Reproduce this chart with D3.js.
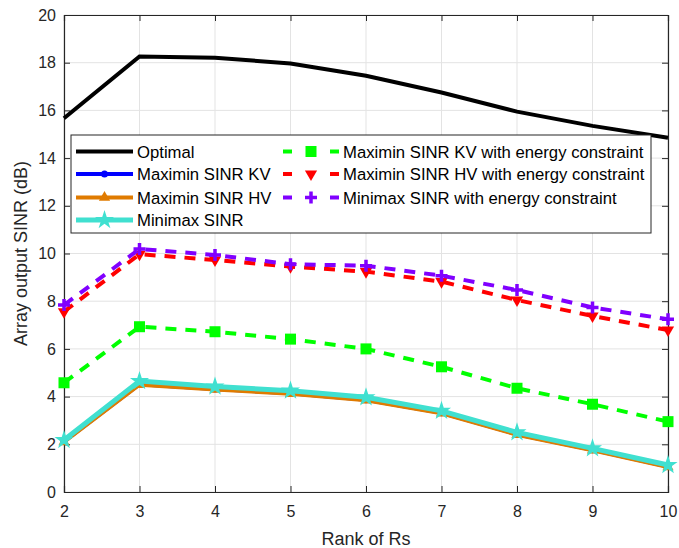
<!DOCTYPE html>
<html><head><meta charset="utf-8">
<script src="https://cdn.jsdelivr.net/npm/d3@7"></script>
<style>body{margin:0;background:#fff;} text{font-family:"Liberation Sans",Arial,sans-serif;}</style>
</head><body><svg id="c" width="679" height="548"></svg>
<script>
const ranks = [2,3,4,5,6,7,8,9,10];
const optimal = [15.67,18.26,18.21,17.97,17.45,16.75,15.95,15.35,14.85];
const maximinKV = [2.12,4.52,4.32,4.14,3.87,3.32,2.42,1.77,1.07];
const maximinHV = [2.10,4.50,4.30,4.12,3.85,3.30,2.40,1.75,1.05];
const minimax = [2.18,4.65,4.42,4.25,3.97,3.40,2.50,1.83,1.13];
const kvEnergy = [4.58,6.93,6.72,6.41,6.00,5.25,4.35,3.68,2.95];
const hvEnergy = [7.56,9.97,9.73,9.45,9.24,8.82,8.05,7.38,6.79];
const minimaxEnergy = [7.84,10.19,9.94,9.55,9.49,9.07,8.47,7.74,7.24];
const yTicks = [0,2,4,6,8,10,12,14,16,18,20];
const xLabel = "Rank of Rs", yLabel = "Array output SINR (dB)";

const svg = d3.select("#c");
const L=64,R=668,T=15,B=492;
const x = d3.scaleLinear().domain([2,10]).range([L,R]);
const y = d3.scaleLinear().domain([0,20]).range([B,T]);
const axisCol="#262626";

// grid
const g = svg.append("g");
g.selectAll(".gx").data(ranks).enter().append("line")
 .attr("x1",d=>x(d)).attr("x2",d=>x(d)).attr("y1",T).attr("y2",B)
 .attr("stroke","#e3e3e3").attr("stroke-width",1);
g.selectAll(".gy").data(yTicks).enter().append("line")
 .attr("y1",d=>y(d)).attr("y2",d=>y(d)).attr("x1",L).attr("x2",R)
 .attr("stroke","#e3e3e3").attr("stroke-width",1);

// axes
const ax = svg.append("g").attr("transform",`translate(0,${B})`)
 .call(d3.axisBottom(x).tickValues(ranks).tickSize(-6).tickPadding(14).tickFormat(d3.format("d")));
const ay = svg.append("g").attr("transform",`translate(${L},0)`)
 .call(d3.axisLeft(y).tickValues(yTicks).tickSize(-6).tickPadding(8));
const axt = svg.append("g").attr("transform",`translate(0,${T})`)
 .call(d3.axisTop(x).tickValues(ranks).tickSize(-6).tickFormat(""));
const ayr = svg.append("g").attr("transform",`translate(${R},0)`)
 .call(d3.axisRight(y).tickValues(yTicks).tickSize(-6).tickFormat(""));
[ax,ay,axt,ayr].forEach(a=>{
  a.select(".domain").attr("stroke",axisCol).attr("stroke-width",1.2);
  a.selectAll(".tick line").attr("stroke",axisCol);
  a.selectAll(".tick text").attr("fill",axisCol).style("font-size","16px").style("font-family","Liberation Sans, Arial, sans-serif");
});

svg.append("text").attr("x",(L+R)/2).attr("y",545).attr("text-anchor","middle")
 .attr("fill",axisCol).style("font-size","18px").text(xLabel);
svg.append("text").attr("transform",`translate(27,${(T+B)/2}) rotate(-90)`).attr("text-anchor","middle")
 .attr("fill",axisCol).style("font-size","18px").text(yLabel);

const line = d3.line().x((d,i)=>x(ranks[i])).y(d=>y(d));

function marker(sel, type, color, size){
  if(type==="circle"){ sel.append("circle").attr("r",size/2).attr("fill",color); }
  else if(type==="square"){ sel.append("rect").attr("x",-size/2).attr("y",-size/2).attr("width",size).attr("height",size).attr("fill",color); }
  else if(type==="tri-up"){ sel.append("path").attr("d",d3.symbol(d3.symbolTriangle, size*size*0.45)()).attr("fill",color); }
  else if(type==="tri-down"){ sel.append("path").attr("d",d3.symbol(d3.symbolTriangle, size*size*0.45)()).attr("transform","rotate(180)").attr("fill",color); }
  else if(type==="plus"){ const h=size/2; sel.append("path").attr("d",`M${-h},0H${h}M0,${-h}V${h}`).attr("stroke",color).attr("stroke-width",3.5); }
  else if(type==="star"){ sel.append("path").attr("d",d3.symbol(d3.symbolStar, size*size*0.35)()).attr("fill",color); }
}

const series = [
  {name:"Optimal", data:optimal, color:"#000000", w:4, dash:null, mk:null},
  {name:"Maximin SINR KV", data:maximinKV, color:"#0000ff", w:4, dash:null, mk:"circle", ms:7},
  {name:"Maximin SINR HV", data:maximinHV, color:"#e07b00", w:4, dash:null, mk:"tri-up", ms:11},
  {name:"Minimax SINR", data:minimax, color:"#40e0d0", w:5, dash:null, mk:"star", ms:18},
  {name:"Maximin SINR KV with energy constraint", data:kvEnergy, color:"#00ff00", w:4, dash:"11,9", mk:"square", ms:11},
  {name:"Maximin SINR HV with energy constraint", data:hvEnergy, color:"#ff0000", w:4, dash:"11,9", mk:"tri-down", ms:12},
  {name:"Minimax SINR with energy constraint", data:minimaxEnergy, color:"#8000ff", w:4, dash:"11,9", mk:"plus", ms:12}
];
const drawOrder = [0,4,5,6,1,2,3];
const pl = svg.append("g");
drawOrder.forEach(k=>{
  const s=series[k];
  const gg=pl.append("g");
  gg.append("path").datum(s.data).attr("d",line).attr("fill","none")
    .attr("stroke",s.color).attr("stroke-width",s.w).attr("stroke-dasharray",s.dash);
  if(s.mk){
    s.data.forEach((v,i)=>{
      const m=gg.append("g").attr("transform",`translate(${x(ranks[i])},${y(v)})`);
      marker(m,s.mk,s.color,s.ms);
    });
  }
});

// legend
const lg = svg.append("g");
lg.append("rect").attr("x",71).attr("y",135).attr("width",580).attr("height",98)
  .attr("fill","#fff").attr("stroke","#262626").attr("stroke-width",1);
const rowY=[151.5,174,197.5,220];
series.forEach((s,k)=>{
  const col = k<4 ? 0 : 1;
  const row = k<4 ? k : k-4;
  const yy=rowY[row];
  const x1 = col===0?76:283, x2 = col===0?133:339, tx = col===0?137:343;
  const eg=lg.append("g");
  if(s.dash){
    eg.append("line").attr("x1",x1).attr("x2",x1+9).attr("y1",yy).attr("y2",yy).attr("stroke",s.color).attr("stroke-width",s.w);
    eg.append("line").attr("x1",x2-9).attr("x2",x2).attr("y1",yy).attr("y2",yy).attr("stroke",s.color).attr("stroke-width",s.w);
  } else {
    eg.append("line").attr("x1",x1).attr("x2",x2).attr("y1",yy).attr("y2",yy).attr("stroke",s.color).attr("stroke-width",s.w);
  }
  if(s.mk){ const m=eg.append("g").attr("transform",`translate(${(x1+x2)/2},${yy})`); marker(m,s.mk,s.color,s.ms); }
  eg.append("text").attr("x",tx).attr("y",yy).attr("dy","0.36em").attr("fill","#000").style("font-size","16.7px").text(s.name);
});
</script></body></html>
